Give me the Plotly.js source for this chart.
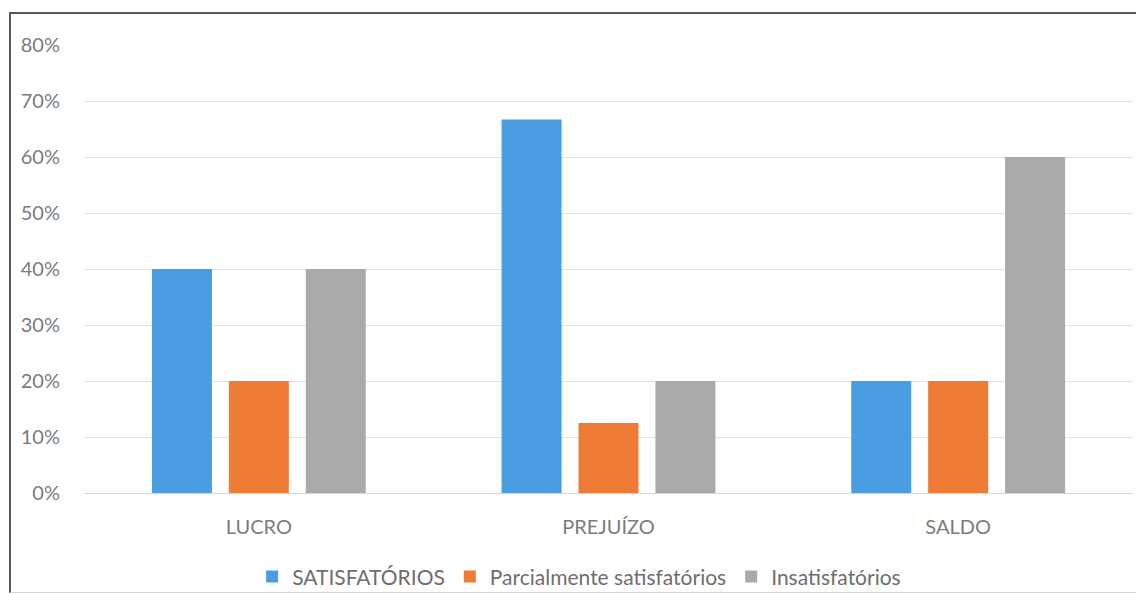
<!DOCTYPE html>
<html>
<head>
<meta charset="utf-8">
<script src="https://cdn.plot.ly/plotly-3.0.1.min.js"></script>
<style>
  html, body { margin: 0; padding: 0; background: #ffffff; }
  #wrap { position: relative; width: 1136px; height: 593px; overflow: hidden; }
  #chart { position: absolute; left: 0; top: 0; width: 1136px; height: 593px; }
  #frame { position: absolute; left: 9px; top: 12px; width: 1200px; height: 578px;
           border-left: 2px solid #5a5a5a; border-top: 2px solid #5a5a5a; border-bottom: 1px solid #d4d4d4;
           pointer-events: none; }
</style>
</head>
<body>
<div id="wrap">
  <div id="chart"></div>
  <div id="frame"></div>
</div>
<script>
// Categories and the share of each evaluation group
const categories = ["LUCRO", "PREJUÍZO", "SALDO"];
const seriesNames = ["SATISFATÓRIOS", "Parcialmente satisfatórios", "Insatisfatórios"];
const satisfatorios = [0.40, 0.667, 0.20];
const parcialmente = [0.20, 0.125, 0.20];
const insatisfatorios = [0.40, 0.20, 0.60];
const tickValues = [0, 0.1, 0.2, 0.3, 0.4, 0.5, 0.6, 0.7, 0.8];
const tickLabels = ["0%", "10%", "20%", "30%", "40%", "50%", "60%", "70%", "80%"];

const colors = ["#4a9de0", "#ef7b35", "#a9a9a9"];
const values = [satisfatorios, parcialmente, insatisfatorios];

const font = "Lato, 'Open Sans', sans-serif";
const textColor = "#7c7c7c";

const traces = values.map((v, i) => ({
  type: "bar",
  name: seriesNames[i],
  x: categories,
  y: v,
  marker: { color: colors[i], line: { width: 0 } },
  hoverinfo: "x+y+name"
}));

const layout = {
  width: 1136,
  height: 593,
  margin: { l: 84, r: 3, t: 45, b: 100, autoexpand: false },
  paper_bgcolor: "#ffffff",
  plot_bgcolor: "#ffffff",
  barmode: "group",
  bargap: 0.34,
  bargroupgap: 0.22,
  showlegend: true,
  font: { family: font, color: textColor },
  xaxis: {
    type: "category",
    showgrid: false,
    zeroline: false,
    showline: false,
    ticks: "outside",
    ticklen: 16,
    tickcolor: "rgba(0,0,0,0)",
    tickfont: { family: font, size: 20, color: textColor }
  },
  yaxis: {
    range: [0, 0.8],
    tickvals: tickValues,
    ticktext: tickLabels,
    showgrid: true,
    gridcolor: "#e2e2e2",
    gridwidth: 1,
    zeroline: true,
    zerolinecolor: "#d6d6d6",
    zerolinewidth: 1,
    showline: false,
    ticks: "outside",
    ticklen: 19,
    tickcolor: "rgba(0,0,0,0)",
    tickfont: { family: font, size: 20, color: textColor }
  },
  legend: {
    orientation: "h",
    x: 0.472,
    xanchor: "center",
    y: -0.187,
    yanchor: "middle",
    font: { family: font, size: 21, color: "#6e6e6e" },
    itemwidth: 30,
    traceorder: "normal",
    bgcolor: "rgba(0,0,0,0)"
  }
};

Plotly.newPlot("chart", traces, layout, { displayModeBar: false, staticPlot: true });
</script>
</body>
</html>
